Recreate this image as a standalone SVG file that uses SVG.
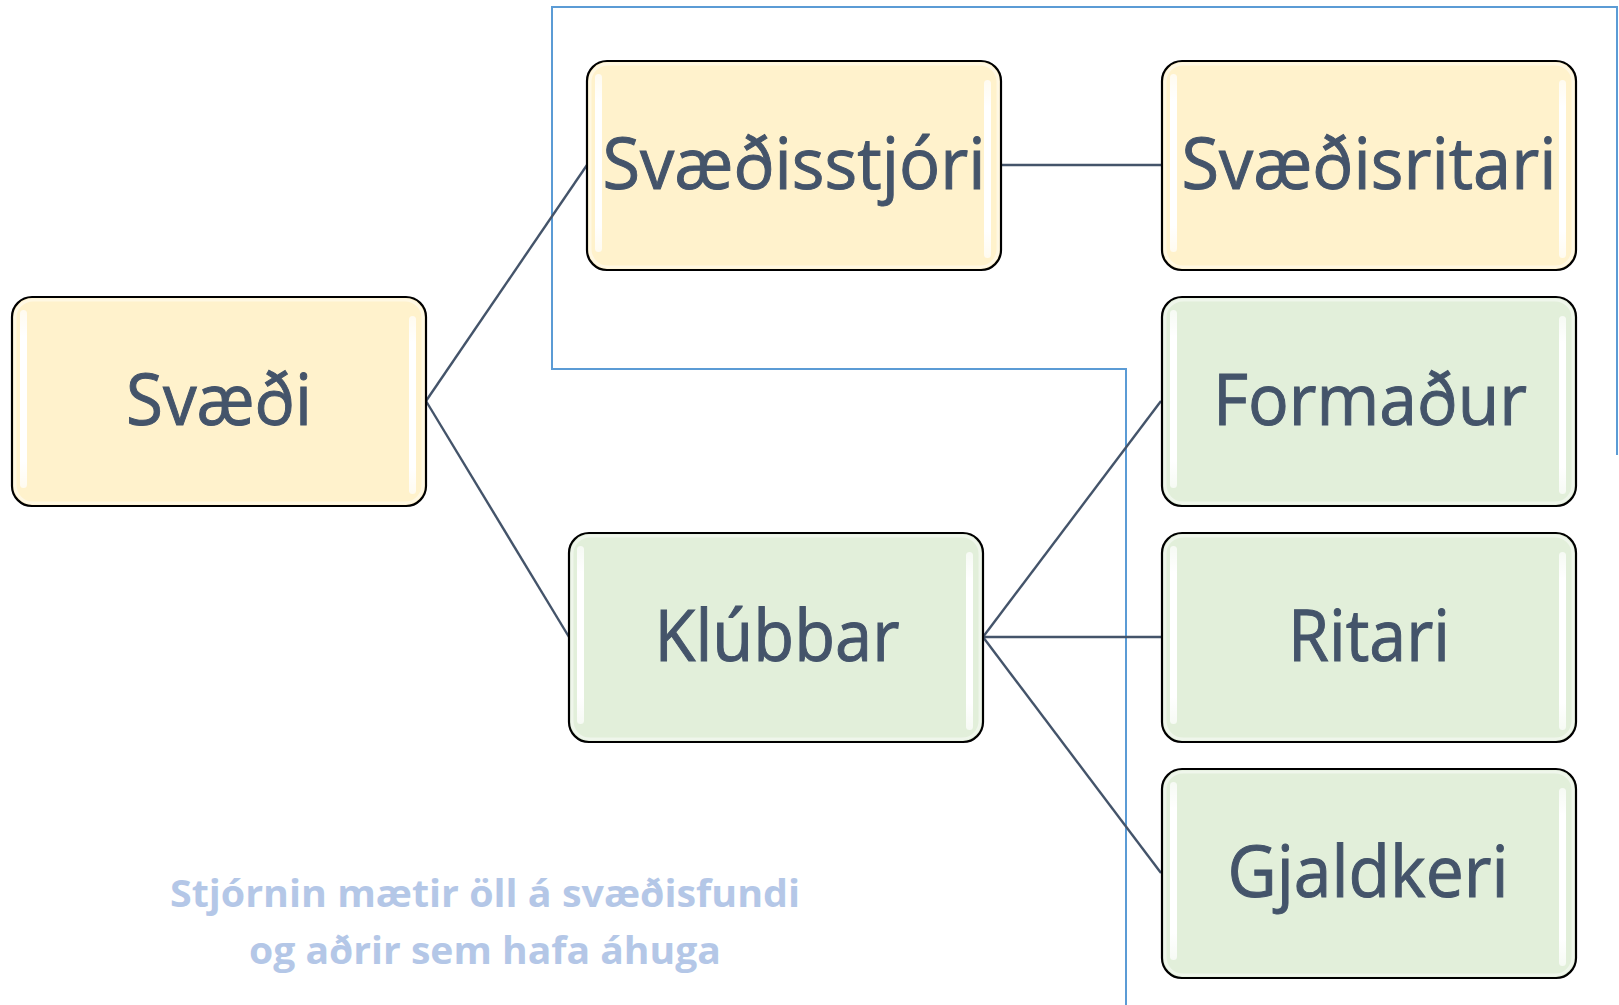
<svg xmlns="http://www.w3.org/2000/svg" width="1619" height="1005" viewBox="0 0 1619 1005">
<style>
.box{stroke:#000;stroke-width:2.2}
.y{fill:#FFF2CC}
.g{fill:#E2EFDA}
.inner{fill:none;stroke:#fff;stroke-opacity:0.45;stroke-width:3}
.gl{fill:url(#glow)}
.t{font-family:"Open Sans","Noto Sans",sans-serif;font-size:72px;fill:#44546A;stroke:#44546A;stroke-width:1;text-anchor:middle}
.conn{stroke:#44546A;stroke-width:2.4;fill:none}
.frame{stroke:#5B9BD5;stroke-width:2;fill:none}
.note{font-family:"Open Sans","Noto Sans",sans-serif;font-weight:bold;font-size:37px;fill:#B4C7E7}
</style>
<defs>
<linearGradient id="glow" x1="0" y1="0" x2="0" y2="1">
<stop offset="0" stop-color="#fff" stop-opacity="0.7"/>
<stop offset="0.15" stop-color="#fff" stop-opacity="1"/>
<stop offset="0.85" stop-color="#fff" stop-opacity="1"/>
<stop offset="1" stop-color="#fff" stop-opacity="0.7"/>
</linearGradient>
</defs>
<g id="frame"><path class="frame" d="M1126,1005 V369 H552 V7 H1617 V455"/></g>
<g id="connectors">
<line class="conn" x1="426" y1="401" x2="587" y2="165"/>
<line class="conn" x1="426" y1="401" x2="569" y2="637"/>
<line class="conn" x1="1001" y1="165" x2="1161" y2="165"/>
<line class="conn" x1="983" y1="637" x2="1161" y2="401"/>
<line class="conn" x1="983" y1="637" x2="1161" y2="637"/>
<line class="conn" x1="983" y1="637" x2="1161" y2="873"/>
</g>
<g id="svaedi">
<rect class="box y" x="12" y="297" width="414" height="209" rx="20"/>
<rect class="inner" x="15" y="300" width="408" height="203" rx="18"/>
<rect class="gl" x="20" y="310" width="7" height="178" rx="3.5"/>
<rect class="gl" x="409" y="316" width="7" height="178" rx="3.5"/>
<text class="t" x="219" y="425" textLength="186" lengthAdjust="spacingAndGlyphs">Svæði</text>
</g>
<g id="svaedisstjori">
<rect class="box y" x="587" y="61" width="414" height="209" rx="20"/>
<rect class="inner" x="590" y="64" width="408" height="203" rx="18"/>
<rect class="gl" x="595" y="74" width="7" height="178" rx="3.5"/>
<rect class="gl" x="984" y="80" width="7" height="178" rx="3.5"/>
<text class="t" x="794" y="189" textLength="383" lengthAdjust="spacingAndGlyphs">Svæðisstjóri</text>
</g>
<g id="svaedisritari">
<rect class="box y" x="1162" y="61" width="414" height="209" rx="20"/>
<rect class="inner" x="1165" y="64" width="408" height="203" rx="18"/>
<rect class="gl" x="1170" y="74" width="7" height="178" rx="3.5"/>
<rect class="gl" x="1559" y="80" width="7" height="178" rx="3.5"/>
<text class="t" x="1369" y="189" textLength="375" lengthAdjust="spacingAndGlyphs">Svæðisritari</text>
</g>
<g id="klubbar">
<rect class="box g" x="569" y="533" width="414" height="209" rx="20"/>
<rect class="inner" x="572" y="536" width="408" height="203" rx="18"/>
<rect class="gl" x="577" y="546" width="7" height="178" rx="3.5"/>
<rect class="gl" x="966" y="552" width="7" height="178" rx="3.5"/>
<text class="t" x="777" y="661" textLength="245" lengthAdjust="spacingAndGlyphs">Klúbbar</text>
</g>
<g id="formadur">
<rect class="box g" x="1162" y="297" width="414" height="209" rx="20"/>
<rect class="inner" x="1165" y="300" width="408" height="203" rx="18"/>
<rect class="gl" x="1170" y="310" width="7" height="178" rx="3.5"/>
<rect class="gl" x="1559" y="316" width="7" height="178" rx="3.5"/>
<text class="t" x="1370" y="425" textLength="314" lengthAdjust="spacingAndGlyphs">Formaður</text>
</g>
<g id="ritari">
<rect class="box g" x="1162" y="533" width="414" height="209" rx="20"/>
<rect class="inner" x="1165" y="536" width="408" height="203" rx="18"/>
<rect class="gl" x="1170" y="546" width="7" height="178" rx="3.5"/>
<rect class="gl" x="1559" y="552" width="7" height="178" rx="3.5"/>
<text class="t" x="1369" y="661" textLength="162" lengthAdjust="spacingAndGlyphs">Ritari</text>
</g>
<g id="gjaldkeri">
<rect class="box g" x="1162" y="769" width="414" height="209" rx="20"/>
<rect class="inner" x="1165" y="772" width="408" height="203" rx="18"/>
<rect class="gl" x="1170" y="782" width="7" height="178" rx="3.5"/>
<rect class="gl" x="1559" y="788" width="7" height="178" rx="3.5"/>
<text class="t" x="1368" y="897" textLength="281" lengthAdjust="spacingAndGlyphs">Gjaldkeri</text>
</g>
<g id="note">
<text class="note" x="170" y="907" textLength="630" lengthAdjust="spacingAndGlyphs">Stjórnin mætir öll á svæðisfundi</text>
<text class="note" x="249" y="964" textLength="472" lengthAdjust="spacingAndGlyphs">og aðrir sem hafa áhuga</text>
</g>
</svg>
